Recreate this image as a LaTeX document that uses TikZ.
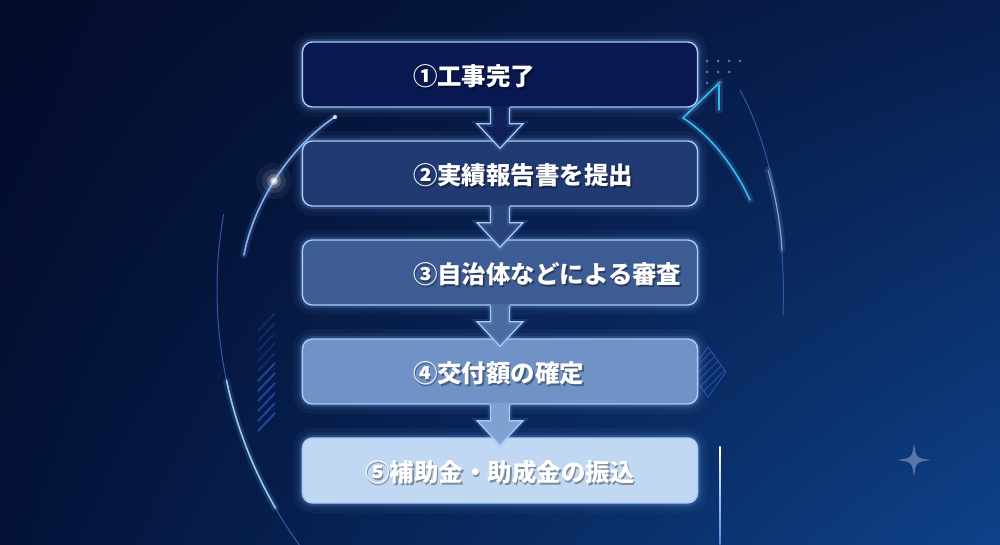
\documentclass[tikz,border=0pt]{standalone}
\usepackage{fontspec}
\newfontfamily\jpfont{Noto Sans CJK JP}
\usepackage{tikz}
\usetikzlibrary{
    calc,
    positioning,
    shadings
}
\usepackage{xcolor}
\definecolor{bgtl}{RGB}{3,12,42}
\definecolor{bgtr}{RGB}{8,30,78}
\definecolor{bgbl}{RGB}{4,18,56}
\definecolor{bgbr}{RGB}{14,66,138}
\definecolor{stepA}{RGB}{8,24,80}
\definecolor{stepB}{RGB}{34,58,114}
\definecolor{stepC}{RGB}{62,92,148}
\definecolor{stepD}{RGB}{112,146,198}
\definecolor{stepE}{RGB}{192,216,242}
\colorlet{arrA}{stepA!75!stepB}
\colorlet{arrB}{stepB!75!stepC}
\colorlet{arrC}{stepC!75!stepD}
\colorlet{arrD}{stepD!80!stepE}
\definecolor{edgeblue}{RGB}{165,205,250}
\definecolor{glowblue}{RGB}{130,180,245}
\definecolor{arcblue}{RGB}{80,135,235}
\definecolor{arccyan}{RGB}{40,190,240}
\definecolor{stripeblue}{RGB}{50,90,205}
\definecolor{dotgray}{RGB}{95,115,155}
\definecolor{stargray}{RGB}{88,118,168}

\begin{document}
\begin{tikzpicture}[
    x=0.025cm, y=0.025cm,
    stepbox/.style={rectangle, rounded corners=0.25cm, minimum width=9.875cm, minimum height=1.625cm, draw=edgeblue, line width=1pt,
        preaction={draw=glowblue, line width=14pt, opacity=0.05},
        preaction={draw=glowblue, line width=8pt, opacity=0.08},
        preaction={draw=glowblue, line width=4pt, opacity=0.18}},
    steptext/.style={font=\jpfont\bfseries\fontsize{17.4}{20}\selectfont, text=white, inner sep=0pt},
    stepshadow/.style={steptext, text=black, opacity=0.35},
    arrowedge/.style={draw=edgeblue, line width=0.9pt, line join=miter,
        preaction={draw=glowblue, line width=4pt, opacity=0.15}},
    glowline/.style={line width=1.2pt, line cap=round,
        preaction={draw=glowblue, line width=5pt, opacity=0.15, line cap=round}},
    stripe/.style={stripeblue, line width=1.4pt}
]

% Background
\shade[upper left=bgtl, upper right=bgtr, lower left=bgbl, lower right=bgbr] (0,0) rectangle (1000,545);
\useasboundingbox (0,0) rectangle (1000,545);

% Arcs (left)
\draw[arcblue, line width=0.7pt, opacity=0.6] (653,255) ++(170:436) arc[start angle=170, end angle=216, radius=436];
\draw[glowline, arccyan!40!white, opacity=0.8] (653,255) ++(192:436) arc[start angle=192, end angle=210, radius=436];
\draw[glowline, arcblue!70!white] (244,290) .. controls (252,335) and (285,395) .. (335,428);
\foreach \r/\o in {18/0.05, 12/0.1, 7/0.22, 4/0.5, 2/0.9} {
    \fill[white, opacity=\o] (274,364) circle (\r);
}
\fill[white, opacity=0.8] (335,428) circle (2);

% Stripes (left)
\foreach \k in {0,...,4} {
    \draw[stripe, opacity=0.25] (258, 545-313-10*\k-18) -- (275, 545-313-10*\k);
}
\foreach \k in {5,...,10} {
    \draw[stripe, opacity=0.65] (258, 545-313-10*\k-18) -- (275, 545-313-10*\k);
}

% Arcs (right)
\draw[arcblue, line width=0.7pt, opacity=0.55] (740,455) .. controls (770,400) and (786,320) .. (783,230);
\draw[glowline, white, opacity=0.45, line width=0.8pt] (768,375) .. controls (776,345) and (781,320) .. (782,295);
\draw[glowline, arccyan] (720,463) -- (683,427) .. controls (710,410) and (735,378) .. (750,345);
\draw[glowline, arccyan, line width=0.8pt] (719,460) -- (719,435);
\foreach \x/\y in {707/61, 718/61, 729/61, 740/61, 707/72, 718/72, 729/72, 707/83, 718/83} {
    \fill[dotgray] (\x, 545-\y) circle (1.5);
}

% Diamond (right)
\begin{scope}
    \clip (690,173) -- (708,198) -- (726,173) -- (708,148) -- cycle;
    \foreach \k in {0,...,6} {
        \draw[stripeblue, line width=0.6pt, opacity=0.7] (690, 140+8*\k) -- (730, 180+8*\k);
    }
\end{scope}
\draw[stripeblue, line width=0.6pt, opacity=0.8] (690,173) -- (708,198) -- (726,173) -- (708,148) -- cycle;

% Vertical line
\shade[top color=white, bottom color=arcblue] (719.3,0) rectangle (720.7,98);

% Star
\fill[stargray] (914,102) .. controls (916,87) .. (931,85) .. controls (916,83) .. (914,68)
    .. controls (912,83) .. (897,85) .. controls (912,87) .. (914,102) -- cycle;

% Steps
\foreach \i/\col in {1/stepA, 2/stepB, 3/stepC, 4/stepD, 5/stepE} {
    \node[stepbox, fill=\col] (s\i) at (500, 569.5-99*\i) {};
}

% Labels
\foreach \i/\lbl in {1/①工事完了, 2/②実績報告書を提出, 3/③自治体などによる審査, 4/④交付額の確定} {
    \node[stepshadow, anchor=west] (h\i) at ($(s\i.west)+(112.5,-3.5)$) {\lbl};
    \node[steptext, anchor=west] (t\i) at ($(s\i.west)+(111,-2)$) {\lbl};
}
\node[stepshadow] (h5) at ($(s5)+(1.5,-3.5)$) {⑤補助金・助成金の振込};
\node[steptext] (t5) at ($(s5)+(0,-2)$) {⑤補助金・助成金の振込};

% Arrows
\foreach \i/\j/\col in {1/2/arrA, 2/3/arrB, 3/4/arrC, 4/5/arrD} {
    \fill[\col] ($(s\i.south)+(-9.5,1.5)$) -- ++(0,-17.5) -- ++(-13.5,0) -- ($(s\j.north)+(0,-8)$)
        -- ($(s\i.south)+(23,-16)$) -- ++(-13.5,0) -- ++(0,17.5) -- cycle;
    \draw[arrowedge] ($(s\i.south)+(-9.5,0)$) -- ++(0,-16) -- ++(-13.5,0) -- ($(s\j.north)+(0,-8)$)
        -- ($(s\i.south)+(23,-16)$) -- ++(-13.5,0) -- ++(0,16);
}

\end{tikzpicture}
\end{document}
